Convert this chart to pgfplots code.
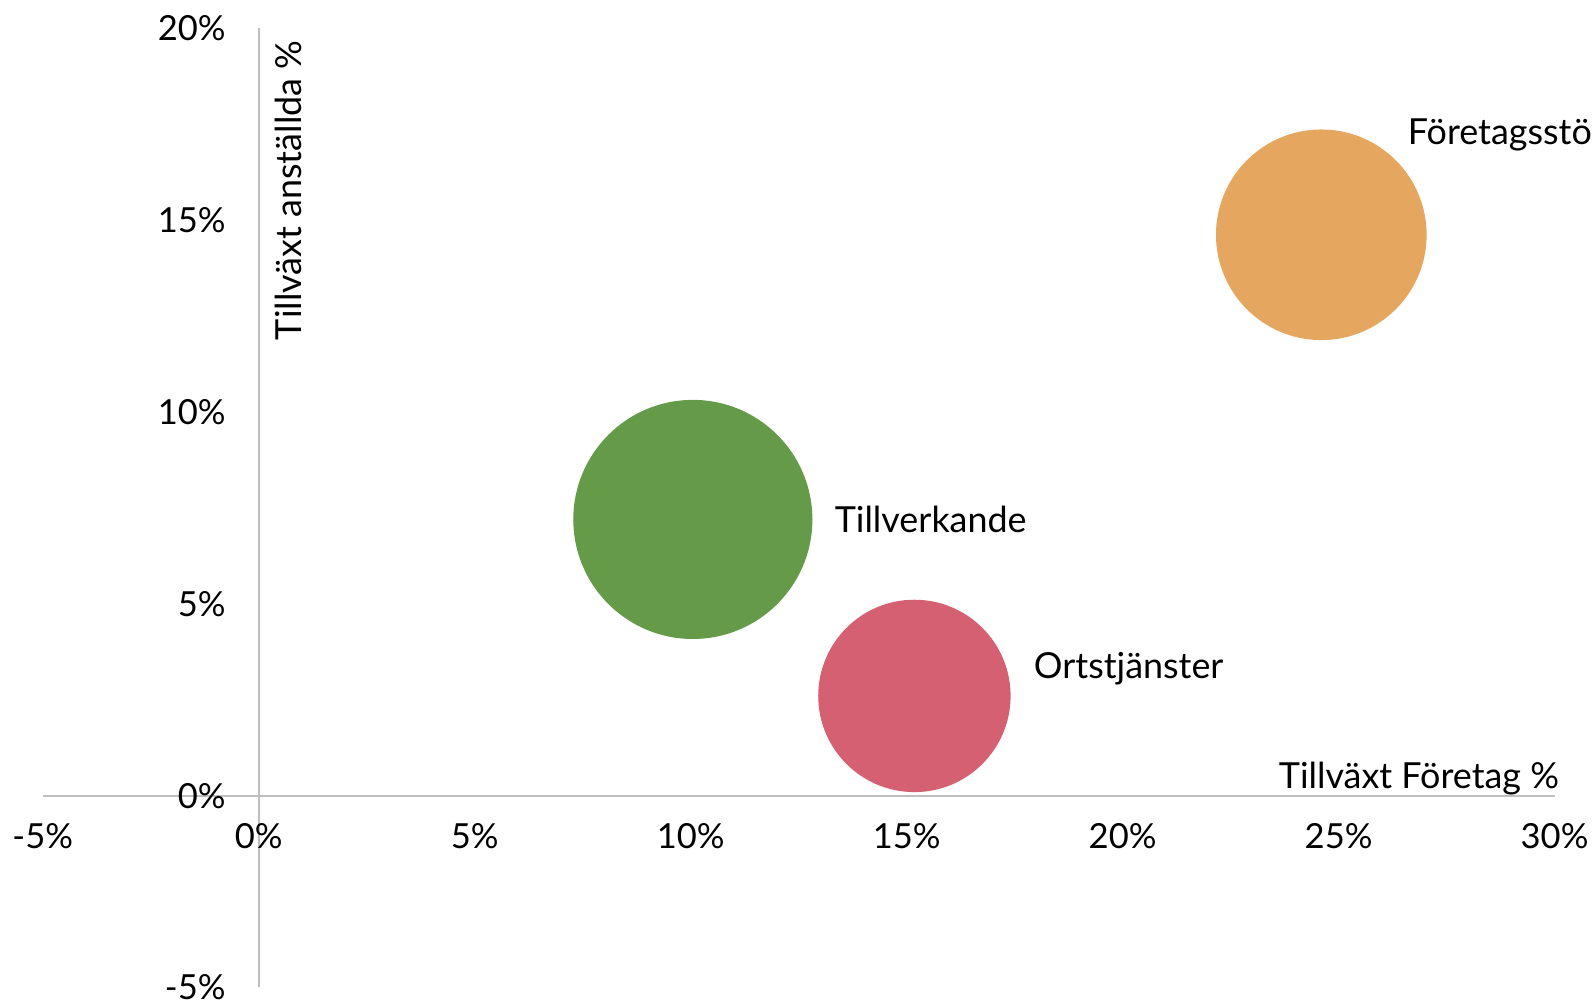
\documentclass[border=0pt]{standalone}
\usepackage{pgfplots}
\pgfplotsset{compat=1.18}
\usepackage{fontspec}
\setmainfont{Lato}

\definecolor{cGreen}{HTML}{659A48}
\definecolor{cRed}{HTML}{D46072}
\definecolor{cOrange}{HTML}{E5A75F}
\definecolor{axisgray}{HTML}{BFBFBF}
\newcommand\lbl{\fontsize{10.2}{12}\selectfont}
\newcommand\dlbl{\fontsize{10.6}{12}\selectfont}

\begin{document}
\begin{tikzpicture}
\begin{axis}[
  width=446.4pt, height=283.2pt, scale only axis,
  xmin=-5, xmax=30, ymin=-5, ymax=20,
  axis lines=middle,
  axis line style={-, draw=axisgray, line width=0.6pt},
  xtick={-5,0,...,30}, ytick={-5,0,...,20},
  xticklabels={-5\%,0\%,5\%,10\%,15\%,20\%,25\%,30\%},
  yticklabels={-5\%,0\%,5\%,10\%,15\%,20\%},
  major tick length=0pt,
  hide obscured x ticks=false, hide obscured y ticks=false,
  tick label style={font=\lbl},
  xticklabel style={anchor=north, inner sep=0pt, yshift=-8pt},
  yticklabel style={anchor=east, inner sep=0pt, xshift=-9.6pt},
  every axis x label/.style={at={(rel axis cs:1.0034,0.2074)}, anchor=base east, inner sep=0pt, font=\dlbl},
  every axis y label/.style={at={(rel axis cs:0.1711,0.9880)}, rotate=90, anchor=base east, inner sep=0pt, font=\dlbl},
  xlabel={Tillväxt Företag \%},
  ylabel={Tillväxt anställda \%},
  clip=false,
]
% Tillverkande
\addplot[only marks, color=cGreen, mark=*, mark size=35.1pt, mark options={draw=none, fill=cGreen}]
  coordinates {(10.05,7.20)};
% Ortstjänster
\addplot[only marks, color=cRed, mark=*, mark size=28.2pt, mark options={draw=none, fill=cRed}]
  coordinates {(15.18,2.60)};
% Företagsstöd
\addplot[only marks, color=cOrange, mark=*, mark size=30.9pt, mark options={draw=none, fill=cOrange}]
  coordinates {(24.60,14.62)};

\node[anchor=base west, inner sep=0pt, font=\dlbl] at (axis cs:13.32,6.86) {Tillverkande};
\node[anchor=base west, inner sep=0pt, font=\dlbl] at (axis cs:17.93,3.05) {Ortstjänster};
\node[anchor=base west, inner sep=0pt, font=\dlbl] at (axis cs:26.59,16.98) {Företagsstöd};

\coordinate (bbsw) at (axis cs:-5.99,-5.34);
\coordinate (bbne) at (axis cs:30.89,20.74);
\end{axis}
\pgfresetboundingbox
\useasboundingbox (bbsw) rectangle (bbne);
\end{tikzpicture}
\end{document}
